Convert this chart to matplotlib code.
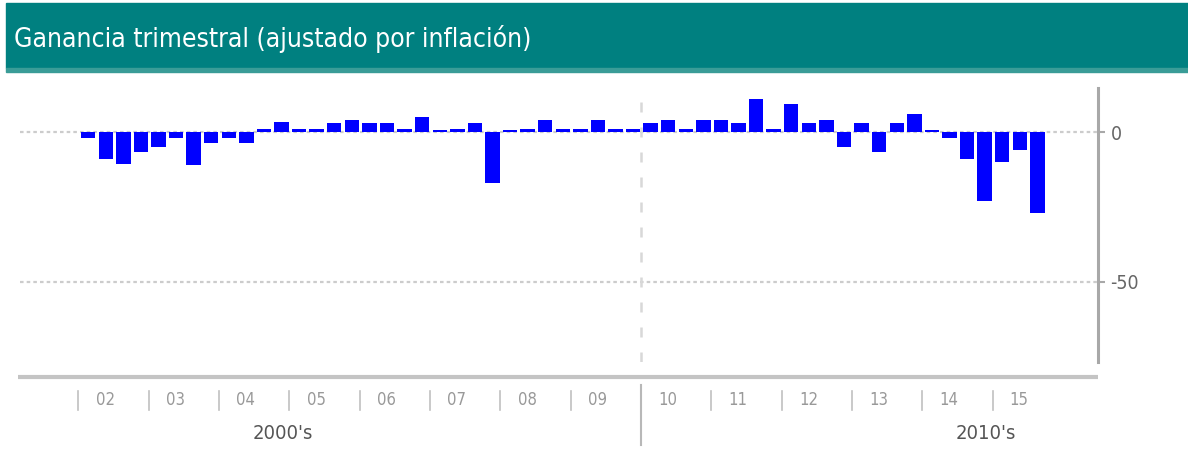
import matplotlib
matplotlib.use("Agg")
import matplotlib.pyplot as plt
from matplotlib.patches import Rectangle
from matplotlib.transforms import blended_transform_factory

TITLE = "Ganancia trimestral (ajustado por inflación)"

# quarterly values, 2002 Q1 .. 2015 Q3
values = [
    -2, -9, -10.5, -6.5, -5, -2, -11, -3.5, -2, -3.5,
    1, 3.5, 1, 1, 3, 4, 3, 3, 1, 5,
    0.8, 1, 3, -17, 0.8, 1, 4, 1, 1, 4,
    1, 1, 3, 4, 1, 4, 4, 3, 11, 1,
    9.5, 3, 4, -5, 3, -6.5, 3, 6, 0.8, -2,
    -9, -23, -10, -6, -27,
]
first_year = 2002
year_ticks = list(range(2002, 2016))
year_labels = ["02", "03", "04", "05", "06", "07", "08", "09",
               "10", "11", "12", "13", "14", "15"]
decades = ["2000's", "2010's"]
decade_pos = [2004.9, 2014.9]
y_ticks = [0, -50]

NARROW = dict(family=["Liberation Sans Narrow", "DejaVu Sans"], stretch="condensed")
GRAY = "#a8a8a8"

fig = plt.figure(figsize=(11.88, 4.55), dpi=100)

# title banner
fig.patches.append(Rectangle((6 / 1188, 1 - 68 / 455), 1 - 6 / 1188, 65 / 455,
                             transform=fig.transFigure, color="#008080", zorder=0))
fig.patches.append(Rectangle((6 / 1188, 1 - 72 / 455), 1 - 6 / 1188, 4 / 455,
                             transform=fig.transFigure, color="#3a9c97", zorder=0))
fig.text(14 / 1188, 1 - 39 / 455, TITLE, color="white", fontsize=19,
         va="center", ha="left", **NARROW)

ax = fig.add_axes([20 / 1188, 1 - 362 / 455, 1078 / 1188, 274 / 455])
xs = [first_year + i / 4 + 0.035 for i in range(len(values))]
ax.bar(xs, values, width=0.205, align="edge", color="#0000ff", zorder=3)

ax.set_xlim(2001.168, 2016.5)
ax.set_ylim(-76.7, 14.7)

for y in y_ticks:
    ax.axhline(y, color="#cccccc", lw=1.6, ls=(0, (1.6, 1.4)), zorder=1)

# decade separator
ax.axvline(2010, color="#d8d8d8", lw=1.8, ls=(0, (4, 6)), zorder=1)

for s in ["top", "left", "bottom"]:
    ax.spines[s].set_visible(False)
ax.spines["right"].set_color(GRAY)
ax.spines["right"].set_linewidth(2.2)
ax.yaxis.tick_right()
ax.set_yticks(y_ticks)
ax.set_yticklabels([str(v) for v in y_ticks], fontsize=14, color="#666666", **NARROW)
ax.tick_params(axis="y", length=5, width=1.5, color=GRAY, pad=4)
ax.set_xticks([])

tr = blended_transform_factory(ax.transData, ax.transAxes)
# bottom rule
ax.plot([-0.002, 1.0], [-0.055, -0.055], transform=ax.transAxes, color="#c4c4c4",
        lw=3, clip_on=False, solid_capstyle="butt")
# lower part of the separator
ax.plot([2010, 2010], [-0.084, -0.303], transform=tr, color="#b8b8b8", lw=1.5,
        clip_on=False)
for yr, lab in zip(year_ticks, year_labels):
    if yr != 2010:
        ax.plot([yr, yr], [-0.105, -0.175], transform=tr, color="#c0c0c0", lw=1.2,
                clip_on=False)
    ax.text(yr + 0.38, -0.14, lab, transform=tr, ha="center", va="center",
            fontsize=12, color="#999999", **NARROW)
for pos, lab in zip(decade_pos, decades):
    ax.text(pos, -0.262, lab, transform=tr, ha="center", va="center",
            fontsize=14.5, color="#555555", **NARROW)

fig.savefig("out.png", dpi=100)
